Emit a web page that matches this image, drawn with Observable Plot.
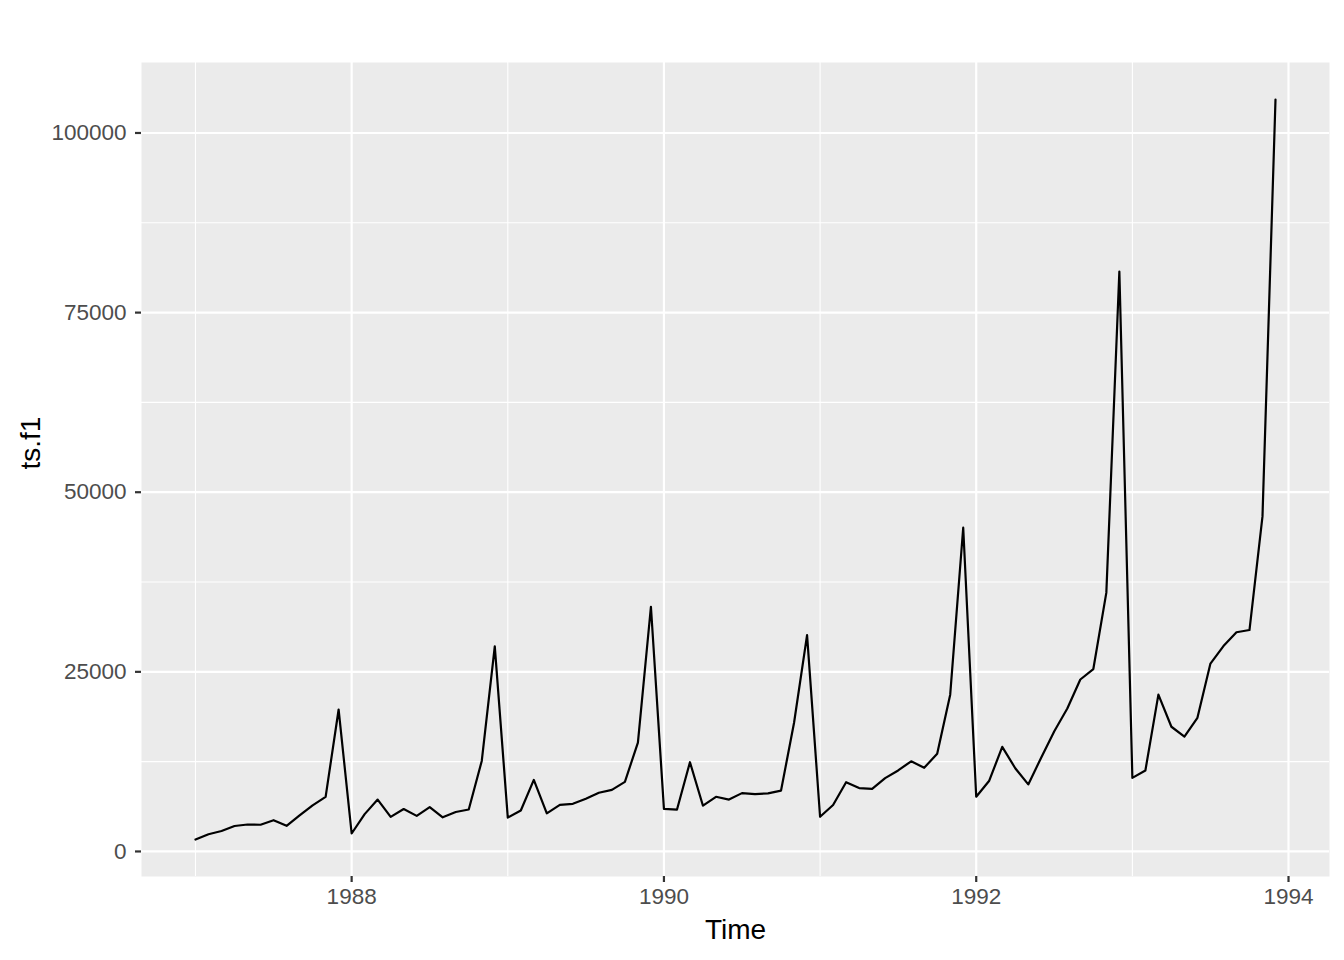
<!DOCTYPE html>
<html>
<head>
<meta charset="utf-8">
<script src="https://cdn.jsdelivr.net/npm/d3@7"></script>
<script src="https://cdn.jsdelivr.net/npm/@observablehq/plot@0.6"></script>
<style>
  html, body { margin: 0; padding: 0; background: #fff; }
  svg { display: block; }
</style>
</head>
<body>
<div id="chart"></div>
<script>
const startYear = 1987;
const values = [
  1664.81, 2397.53, 2840.71, 3547.29, 3752.96, 3714.74, 4349.61, 3566.34, 5021.82, 6423.48, 7600.60, 19756.21,
  2499.81, 5198.24, 7225.14, 4806.03, 5900.88, 4951.34, 6179.12, 4752.15, 5496.43, 5835.10, 12600.08, 28541.72,
  4717.02, 5702.63, 9957.58, 5304.78, 6492.43, 6630.80, 7349.62, 8176.62, 8573.17, 9690.50, 15151.84, 34061.01,
  5921.10, 5814.58, 12421.25, 6369.77, 7609.12, 7224.75, 8121.22, 7979.25, 8093.06, 8476.70, 17914.66, 30114.41,
  4826.64, 6470.23, 9638.77, 8821.17, 8722.37, 10209.48, 11276.55, 12552.22, 11637.39, 13606.89, 21822.11, 45060.69,
  7615.03, 9849.69, 14558.40, 11587.33, 9332.56, 13082.09, 16732.78, 19888.61, 23933.38, 25391.35, 36024.80, 80721.71,
  10243.24, 11266.88, 21826.84, 17357.33, 15997.79, 18601.53, 26155.15, 28586.52, 30505.41, 30821.33, 46634.38, 104660.67
];
const xMajor = [1988, 1990, 1992, 1994];
const xMinor = [1987, 1989, 1991, 1993];
const yMajor = [0, 25000, 50000, 75000, 100000];
const yMinor = [12500, 37500, 62500, 87500];
const xTitle = "Time";
const yTitle = "ts.f1";

const data = values.map((v, i) => ({time: startYear + i / 12, value: v}));

const tMin = d3.min(data, d => d.time), tMax = d3.max(data, d => d.time);
const vMin = d3.min(values), vMax = d3.max(values);
const tPad = (tMax - tMin) * 0.05, vPad = (vMax - vMin) * 0.05;

const font = "'Liberation Sans', Arial, Helvetica, sans-serif";

const chart = Plot.plot({
  width: 1344,
  height: 960,
  marginLeft: 141,
  marginRight: 15,
  marginTop: 62,
  marginBottom: 84,
  style: {fontFamily: font, background: "#fff"},
  x: {domain: [tMin - tPad, tMax + tPad]},
  y: {domain: [vMin - vPad, vMax + vPad]},
  marks: [
    Plot.frame({fill: "#EBEBEB", stroke: null}),
    Plot.ruleX(xMinor, {stroke: "#fff", strokeWidth: 1.1}),
    Plot.ruleY(yMinor, {stroke: "#fff", strokeWidth: 1.1}),
    Plot.ruleX(xMajor, {stroke: "#fff", strokeWidth: 2.2}),
    Plot.ruleY(yMajor, {stroke: "#fff", strokeWidth: 2.2}),
    Plot.line(data, {x: "time", y: "value", stroke: "#000", strokeWidth: 2.2}),
    Plot.axisX({ticks: xMajor, tickFormat: d => String(d), tickSize: 6, tickPadding: 6,
      stroke: "#333333", strokeWidth: 2.2, fill: "#4D4D4D", fontSize: 22.5, label: null}),
    Plot.axisY({ticks: yMajor, tickFormat: d => String(d), tickSize: 6, tickPadding: 9,
      stroke: "#333333", strokeWidth: 2.2, fill: "#4D4D4D", fontSize: 22.5, label: null}),
    Plot.text([xTitle], {frameAnchor: "bottom", dy: 62, fontSize: 28, fill: "#000"}),
    Plot.text([yTitle], {frameAnchor: "left", dx: -110, rotate: -90, fontSize: 28, fill: "#000"})
  ]
});
document.getElementById("chart").appendChild(chart);
</script>
</body>
</html>
